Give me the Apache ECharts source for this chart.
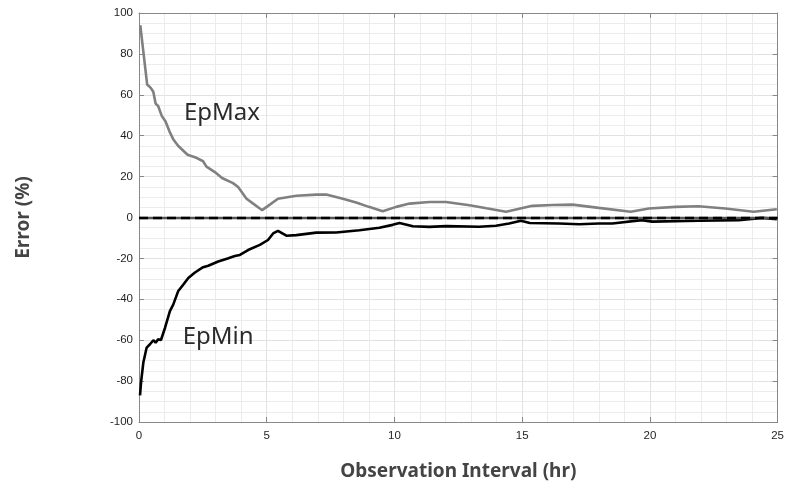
<!DOCTYPE html>
<html>
<head>
<meta charset="utf-8">
<script src="https://cdn.jsdelivr.net/npm/echarts@6/dist/echarts.min.js"></script>
<style>
  html, body { margin: 0; padding: 0; background: #fff; }
  #chart { width: 787px; height: 486px; }
</style>
</head>
<body>
<div id="chart"></div>
<script>
// Observation interval (hr) and error bounds (%)
const epMaxX = [0.05, 0.32, 0.46, 0.56, 0.65, 0.75, 0.89, 1.04, 1.21, 1.34, 1.53, 1.9, 2.19, 2.51, 2.64, 2.97, 3.25, 3.68, 3.88, 4.21, 4.47, 4.73, 4.82, 5.0, 5.44, 6.16, 6.94, 7.33, 7.98, 8.5, 9.0, 9.54, 10.07, 10.59, 11.37, 12.02, 12.94, 13.6, 14.37, 15.4, 16.2, 16.97, 18.0, 19.25, 19.96, 21.0, 21.9, 22.95, 24.06, 24.97];
const epMaxY = [94, 65, 63.4, 61.5, 55.7, 54.5, 49.7, 46.9, 41.6, 38.3, 35.1, 30.7, 29.5, 27.5, 24.9, 22.2, 19.3, 16.8, 14.9, 9.2, 6.8, 4.4, 3.6, 5.2, 9.2, 10.6, 11.2, 11.2, 9.2, 7.3, 5.2, 3.1, 5.2, 6.8, 7.6, 7.6, 6.0, 4.5, 2.8, 5.7, 6.1, 6.3, 4.7, 2.8, 4.4, 5.2, 5.5, 4.4, 2.8, 4.0];

const epMinX = [0.04, 0.08, 0.17, 0.3, 0.43, 0.56, 0.65, 0.75, 0.86, 1.02, 1.21, 1.34, 1.53, 1.73, 1.93, 2.19, 2.51, 2.71, 3.1, 3.5, 3.75, 3.95, 4.27, 4.73, 5.05, 5.25, 5.44, 5.77, 6.16, 6.94, 7.72, 8.63, 9.41, 9.93, 10.2, 10.72, 11.37, 12.02, 13.32, 13.97, 14.49, 14.95, 15.3, 16.45, 17.23, 18.0, 18.53, 19.68, 20.09, 21.91, 23.48, 24.39, 24.97];
const epMinY = [-87, -80.6, -70.9, -63.6, -62, -60, -61.2, -59.6, -59.9, -53.9, -45.8, -42.6, -36.1, -32.9, -29.6, -26.9, -24.3, -23.6, -21.5, -19.9, -18.8, -18.3, -15.9, -13.4, -11, -7.8, -6.5, -8.9, -8.6, -7.4, -7.3, -6.2, -5.0, -3.6, -2.7, -4.3, -4.6, -4.2, -4.5, -4.0, -2.9, -1.6, -2.7, -2.9, -3.3, -2.9, -2.9, -1.3, -2.0, -1.6, -1.3, -0.2, -0.8];

const xTicks = [0, 5, 10, 15, 20, 25];
const yTicks = [-100, -80, -60, -40, -20, 0, 20, 40, 60, 80, 100];

const pairs = (xs, ys) => xs.map((x, i) => [x, ys[i]]);

const tickFont = { color: '#1f1f1f', fontSize: 11.5, fontFamily: 'Liberation Sans, Arial, sans-serif' };
const gridLine = { show: true, lineStyle: { color: '#e1e1e1', width: 1 } };
const minorLine = { show: true, lineStyle: { color: '#ececec', width: 1 } };
const frame = { show: true, onZero: false, lineStyle: { color: '#888', width: 1 } };
const inTick = { show: true, inside: true, length: 5, lineStyle: { color: '#888' } };

const chart = echarts.init(document.getElementById('chart'), null, { renderer: 'canvas' });

chart.setOption({
  animation: false,
  backgroundColor: '#fff',
  grid: { left: 139, right: 8, top: 13, bottom: 60 },
  xAxis: [
    {
      type: 'value', min: xTicks[0], max: xTicks[xTicks.length - 1], interval: 5,
      axisLine: frame, axisTick: inTick,
      axisLabel: Object.assign({ margin: 8 }, tickFont),
      splitLine: gridLine,
      minorTick: { show: false, splitNumber: 5 },
      minorSplitLine: minorLine,
      name: 'Observation Interval (hr)', nameLocation: 'middle', nameGap: 40,
      nameTextStyle: { fontFamily: 'Noto Sans', fontWeight: 'bold', fontSize: 19, color: '#444' }
    },
    {
      type: 'value', position: 'top', min: 0, max: 25, interval: 5,
      axisLine: frame, axisTick: inTick, axisLabel: { show: false },
      splitLine: { show: false }
    }
  ],
  yAxis: [
    {
      type: 'value', min: yTicks[0], max: yTicks[yTicks.length - 1], interval: 20,
      axisLine: frame, axisTick: inTick,
      axisLabel: Object.assign({ margin: 6 }, tickFont),
      splitLine: gridLine,
      minorTick: { show: false, splitNumber: 4 },
      minorSplitLine: minorLine,
      name: 'Error (%)', nameLocation: 'middle', nameGap: 106, nameRotate: 90,
      nameTextStyle: { fontFamily: 'Noto Sans', fontWeight: 'bold', fontSize: 19, color: '#444' }
    },
    {
      type: 'value', position: 'right', min: -100, max: 100, interval: 20,
      axisLine: frame, axisTick: inTick, axisLabel: { show: false },
      splitLine: { show: false }
    }
  ],
  series: [
    {
      name: 'EpMax', type: 'line', data: pairs(epMaxX, epMaxY),
      showSymbol: false, symbol: 'none',
      lineStyle: { color: '#808080', width: 2.6 },
      z: 3,
      markPoint: {
        symbol: 'circle', symbolSize: 0, silent: true,
        label: { show: true, formatter: 'EpMax', fontFamily: 'Noto Sans', fontSize: 24, color: '#2b2b2b' },
        data: [{ coord: [3.25, 51] }]
      }
    },
    {
      name: 'EpMin', type: 'line', data: pairs(epMinX, epMinY),
      showSymbol: false, symbol: 'none',
      lineStyle: { color: '#000', width: 2.6 },
      z: 4,
      markPoint: {
        symbol: 'circle', symbolSize: 0, silent: true,
        label: { show: true, formatter: 'EpMin', fontFamily: 'Noto Sans', fontSize: 24, color: '#2b2b2b' },
        data: [{ coord: [3.1, -58.5] }]
      },
      // zero reference: solid line under a dashed one
      markLine: {
        silent: true, symbol: 'none', label: { show: false },
        data: [
          { yAxis: 0, lineStyle: { type: 'solid', color: '#555', width: 2.4 } },
          { yAxis: 0, lineStyle: { type: [9, 5], color: '#000', width: 2.4 } }
        ]
      }
    }
  ]
});
</script>
</body>
</html>
